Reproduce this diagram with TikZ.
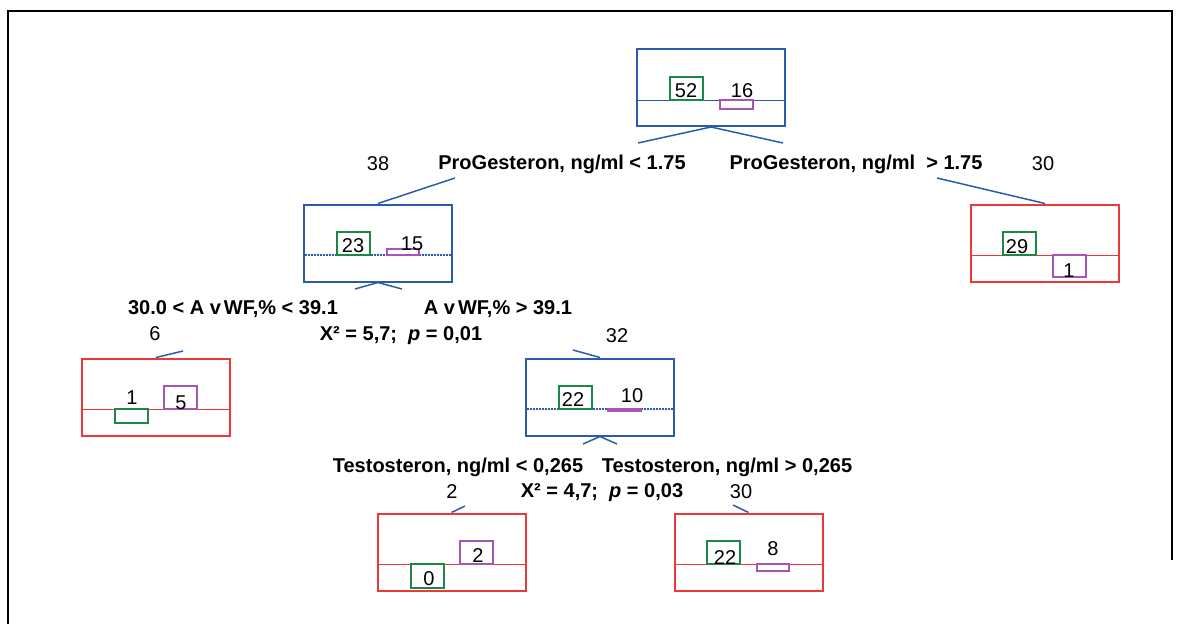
\documentclass[tikz,border=0pt]{standalone}
\usepackage{fontspec}
\setmainfont{Liberation Sans}
\usepackage{tikz}

\definecolor{treeblue}{RGB}{42,92,170}
\definecolor{treered}{RGB}{236,56,56}
\definecolor{bargreen}{RGB}{28,136,70}
\definecolor{barpurple}{RGB}{166,84,182}

\begin{document}
\begin{tikzpicture}[x=1pt, y=-1pt,
            splitbox/.style={draw, line width=2pt, minimum width=148pt, minimum height=77pt, inner sep=0pt},
            leafbox/.style={splitbox, draw=treered},
            innerbox/.style={splitbox, draw=treeblue},
            greenbar/.style={draw=bargreen, line width=1.8pt},
            purplebar/.style={draw=barpurple, line width=1.3pt},
            edge/.style={draw=treeblue, line width=1.5pt},
            count/.style={anchor=base, inner sep=0pt, font=\fontsize{20}{22}\selectfont},
            rule/.style={anchor=base, inner sep=0pt, font=\fontsize{20}{22}\selectfont\bfseries}]
    \useasboundingbox (0,0) rectangle (1180,624);
    % frame
    \draw[line width=2pt] (8,624) -- (8,11) -- (1172,11) -- (1172,560);

    % boxes
    \node[innerbox] (root) at (711,87.5) {};
    \node[innerbox] (low) at (378,243) {};
    \node[leafbox] (high) at (1045,243) {};
    \node[leafbox] (mid) at (156,397) {};
    \node[innerbox] (upper) at (600,397) {};
    \node[leafbox] (tlow) at (451.5,552) {};
    \node[leafbox] (thigh) at (748.5,552) {};

    % middle lines
    \draw[treeblue, line width=1pt] (root.west |- 0,100) -- (root.east |- 0,100);
    \draw[treeblue, line width=1.2pt, dash pattern=on 1pt off 0.5pt] (low.west |- 0,255) -- (low.east |- 0,255);
    \draw[treered, line width=1pt] (high.west |- 0,255) -- (high.east |- 0,255);
    \draw[treered, line width=1pt] (mid.west |- 0,409) -- (mid.east |- 0,409);
    \draw[treeblue, line width=1.2pt, dash pattern=on 1pt off 0.5pt] (upper.west |- 0,409) -- (upper.east |- 0,409);
    \draw[treered, line width=1pt] (tlow.west |- 0,564) -- (tlow.east |- 0,564);
    \draw[treered, line width=1pt] (thigh.west |- 0,564) -- (thigh.east |- 0,564);

    % bars
    \draw[greenbar] (670,77) rectangle (703,100);
    \draw[purplebar] (720,100) rectangle (753,109);
    \draw[greenbar] (337,232) rectangle (370,255);
    \draw[purplebar] (387,249) rectangle (419,255);
    \draw[greenbar] (1003,232) rectangle (1036,255);
    \draw[purplebar] (1053,255) rectangle (1086,277);
    \draw[greenbar] (115,409) rectangle (148,423);
    \draw[purplebar] (164,386) rectangle (197,409);
    \draw[greenbar] (559,386) rectangle (592,409);
    \draw[purplebar] (608,409) rectangle (641,411);
    \draw[greenbar] (411,564) rectangle (444,588);
    \draw[purplebar] (460,541) rectangle (493,564);
    \draw[greenbar] (707,541) rectangle (740,564);
    \draw[purplebar] (757,564) rectangle (789,571);

    % counts
    \node[count] (root-a) at (686,97) {52};
    \node[count] (root-b) at (742,97) {16};
    \node[count] (low-a) at (353,252) {23};
    \node[count] (low-b) at (412,250) {15};
    \node[count] (high-a) at (1017,253) {29};
    \node[count] (high-b) at (1069,277) {1};
    \node[count] (mid-a) at (132,404) {1};
    \node[count] (mid-b) at (181,409) {5};
    \node[count] (upper-a) at (573,406) {22};
    \node[count] (upper-b) at (632,402) {10};
    \node[count] (tlow-a) at (429,585) {0};
    \node[count] (tlow-b) at (478,562) {2};
    \node[count] (thigh-a) at (725,564) {22};
    \node[count] (thigh-b) at (773,555) {8};

    % sizes
    \node[count] (n-low) at (378,170) {38};
    \node[count] (n-high) at (1043,170) {30};
    \node[count] (n-mid) at (155,340) {6};
    \node[count] (n-upper) at (617,342) {32};
    \node[count] (n-tlow) at (452,498) {2};
    \node[count] (n-thigh) at (741,498) {30};

    % split rules
    \node[rule] (r-low) at (562,169) {ProGesteron, ng/ml < 1.75};
    \node[rule] (r-high) at (856,169) {ProGesteron, ng/ml\ \ > 1.75};
    \node[rule] (r-mid) at (233,314) {30.0 < A v\kern3pt WF,\% < 39.1};
    \node[rule] (r-upper) at (498,314) {A v\kern3pt WF,\% > 39.1};
    \node[rule] (chi-low) at (401,340) {X² = 5,7;\ \ \textit{p} = 0,01};
    \node[rule] (r-tlow) at (458,472) {Testosteron, ng/ml < 0,265};
    \node[rule] (r-thigh) at (727,472) {Testosteron, ng/ml > 0,265};
    \node[rule] (chi-upper) at (602,497) {X² = 4,7;\ \ \textit{p} = 0,03};

    % edges
    \coordinate (e1) at (638,143);
    \coordinate (e2) at (455,178);
    \coordinate (e3) at (783,143);
    \coordinate (e4) at (937,178);
    \coordinate (e5) at (355,289);
    \coordinate (e6) at (183,351);
    \coordinate (e7) at (402,289);
    \coordinate (e8) at (573,350);
    \coordinate (e9) at (583,444);
    \coordinate (e10) at (465,506);
    \coordinate (e11) at (617,444);
    \coordinate (e12) at (733,505);
    \draw[edge] (root.south) -- (e1) (e2) -- (low.north);
    \draw[edge] (root.south) -- (e3) (e4) -- (high.north);
    \draw[edge] (low.south) -- (e5) (e6) -- (mid.north);
    \draw[edge] (low.south) -- (e7) (e8) -- (upper.north);
    \draw[edge] (upper.south) -- (e9) (e10) -- (tlow.north);
    \draw[edge] (upper.south) -- (e11) (e12) -- (thigh.north);
\end{tikzpicture}
\end{document}
